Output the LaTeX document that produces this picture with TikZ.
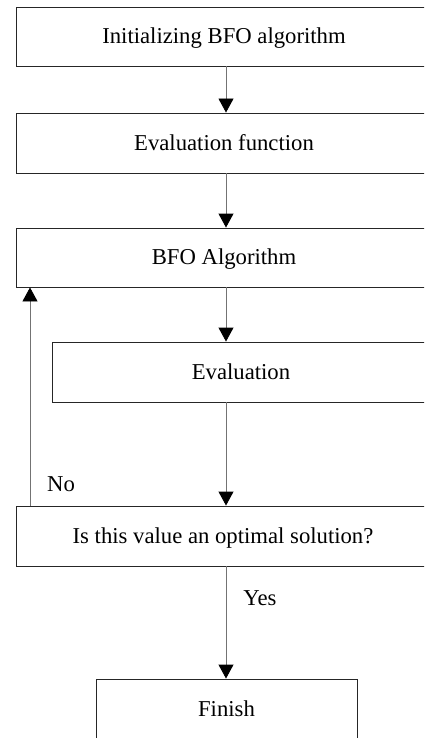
\documentclass[tikz,border=0pt]{standalone}
\usepackage{fontspec}
\setmainfont{Liberation Serif}
\usetikzlibrary{arrows.meta}
\begin{document}
\begin{tikzpicture}[x=1pt,y=-1pt,
  txt/.style={font=\fontsize{22.7}{25}\selectfont,text height=14.8pt,text depth=0pt},
  box/.style={txt,draw=black!85,line width=0.9pt,inner sep=0pt,minimum height=59pt},
  conn/.style={draw=black!55,line width=0.9pt,-{Triangle[width=15pt,length=14pt,black]}},
  lbl/.style={txt,inner sep=0pt}]
\useasboundingbox (0,0) rectangle (424,738);
\clip (0,0) rectangle (424,738);
\fill[white] (0,0) rectangle (424,738);
\node[box,minimum width=416pt] (b1) at (224,36.5) {Initializing BFO algorithm};
\node[box,minimum width=416pt,minimum height=60pt] (b2) at (224,143) {Evaluation function};
\node[box,minimum width=416pt] (b3) at (224,257.5) {BFO Algorithm};
\node[box,minimum width=378pt,minimum height=60pt] (ev) at (241,372) {Evaluation};
\node[box,minimum width=414pt,minimum height=60pt] (dec) at (223,536) {Is this value an optimal solution?};
\node[box,minimum width=261pt,minimum height=60pt] (fin) at (226.5,709) {Finish};
\coordinate (ax) at (226,0);
\coordinate (fx) at (30,0);
\draw[conn] (b1.south -| ax) -- (b2.north -| ax);
\draw[conn] (b2.south -| ax) -- (b3.north -| ax);
\draw[conn] (b3.south -| ax) -- (ev.north -| ax);
\draw[conn] (ev.south -| ax) -- (dec.north -| ax);
\draw[conn] (dec.south -| ax) -- (fin.north -| ax);
\draw[conn] (dec.north -| fx) -- (b3.south -| fx);
\node[lbl] (no) at (61,484.5) {No};
\node[lbl] (yes) at (260,598) {Yes};
\end{tikzpicture}
\end{document}
